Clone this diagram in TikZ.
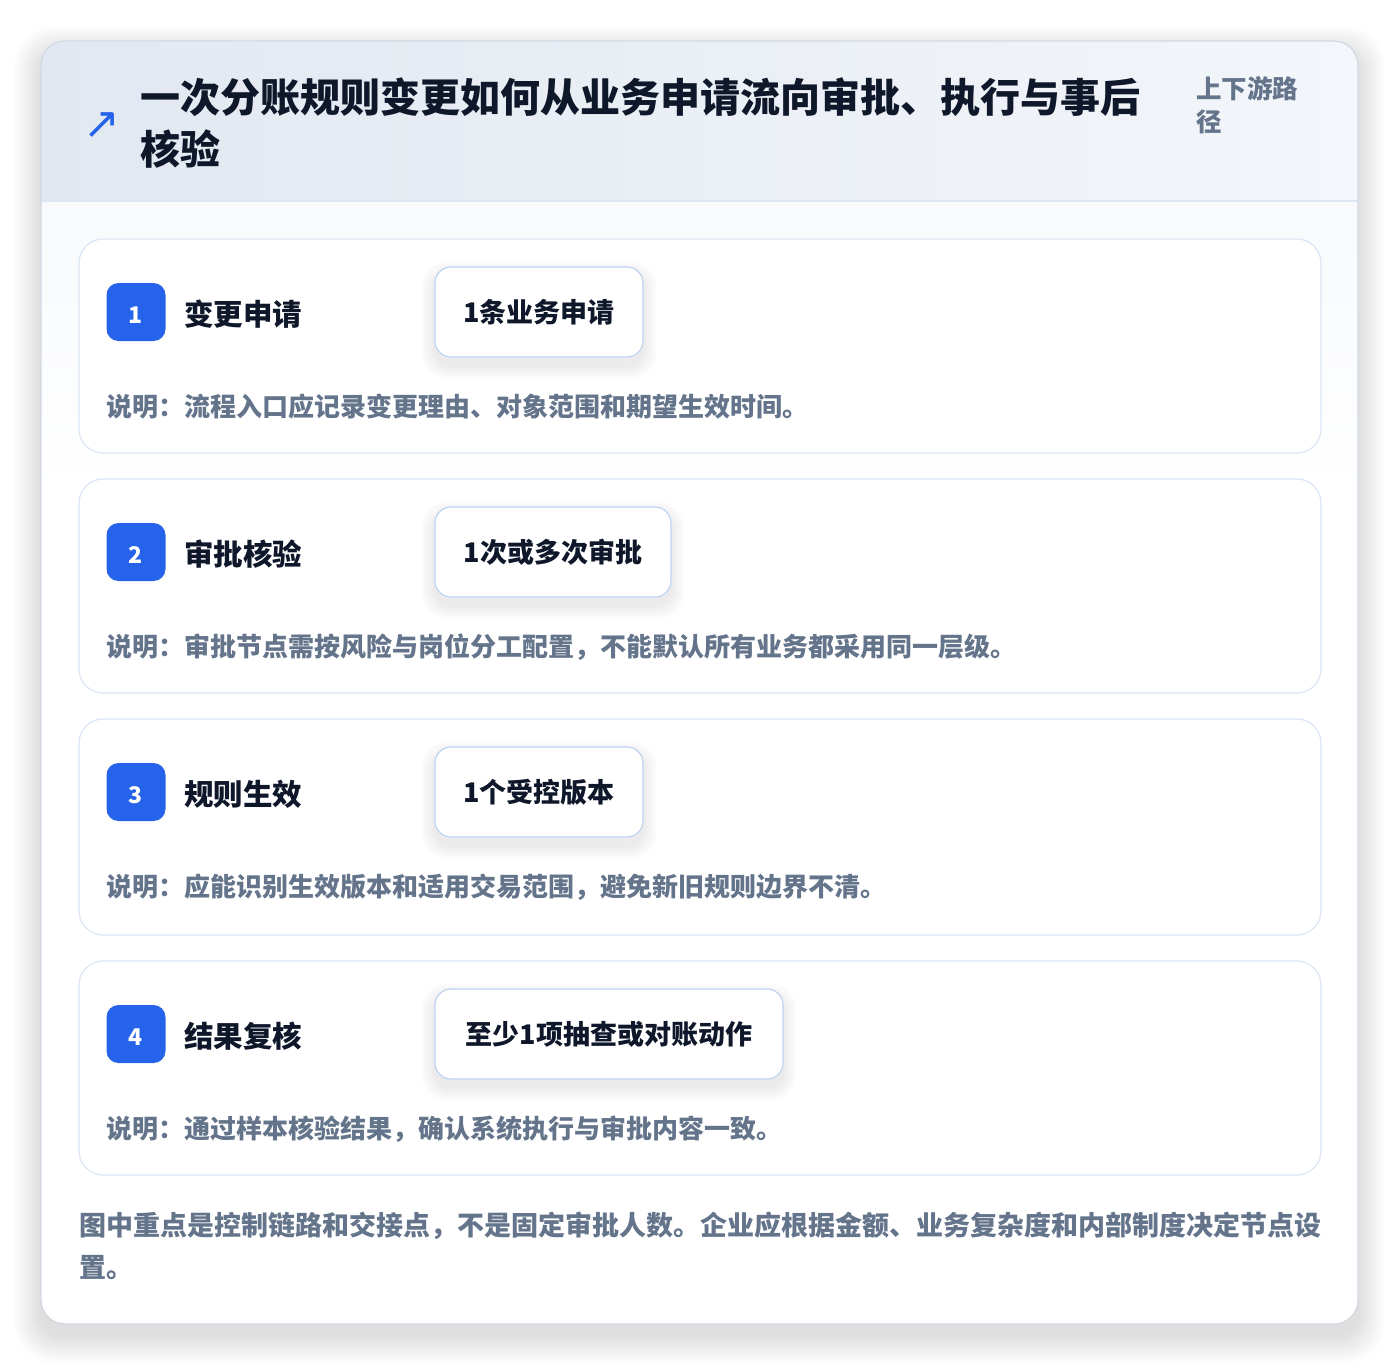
\documentclass[tikz,border=0pt]{standalone}
\usepackage{fontspec}
\setmainfont{Noto Sans CJK SC}
\newfontfamily\symfont{DejaVu Sans}
\usetikzlibrary{arrows.meta}
\definecolor{ink}{HTML}{0F172A}
\definecolor{muted}{HTML}{64748B}
\definecolor{accent}{HTML}{2563EB}
\definecolor{cardline}{HTML}{DCE6F5}
\definecolor{chipline}{HTML}{BFD3F0}
\definecolor{outline}{HTML}{D3D9E3}
\definecolor{headL}{HTML}{E2E8F1}
\definecolor{headR}{HTML}{F3F6FA}
\definecolor{sepline}{HTML}{DCE5F2}
\definecolor{shadowc}{HTML}{334155}
\tikzset{
  card/.style={draw=cardline, line width=1.2pt, fill=white, rounded corners=24pt},
  badge/.style={fill=accent, rounded corners=12pt, minimum width=59pt, minimum height=58pt, inner sep=0pt, text=white, text height=22pt, text depth=0pt, font=\fontsize{23}{24}\selectfont\bfseries},
  steptitle/.style={anchor=west, inner sep=0pt, text=ink, font=\fontsize{29.5}{32}\selectfont\bfseries},
  chip/.style={draw=chipline, line width=1.2pt, fill=white, rounded corners=16pt, minimum height=90pt, inner sep=0pt, text=ink, font=\fontsize{27}{30}\selectfont\bfseries},
  desc/.style={anchor=west, inner sep=0pt, text=muted, font=\fontsize{26}{30}\selectfont\bfseries},
  softshade/.style={fill=shadowc, opacity=#1},
}
\newcommand{\chipshadow}[4]{%
  \foreach \k in {1,...,10}{%
    \fill[softshade=0.006, rounded corners=16pt+\k pt] (#1-\k*1.4, #2-\k*1.4+8) rectangle (#3+\k*1.4, #4+\k*1.4+8);
  }}
\begin{document}
\begin{tikzpicture}[x=1pt,y=-1pt]
\useasboundingbox (0,0) rectangle (1400,1366);
\fill[white] (0,0) rectangle (1400,1366);
% outer card soft shadow
\foreach \k in {1,...,16}{
  \fill[softshade=0.0065, rounded corners=24pt+\k pt] (41-\k*1.7, 41-\k*1.7+12) rectangle (1358+\k*1.7, 1324+\k*1.7+12);
}
\fill[white, rounded corners=24pt] (41,41) rectangle (1358,1324);
\begin{scope}
  \clip[rounded corners=24pt] (41,41) rectangle (1358,1324);
  \shade[left color=headL, right color=headR] (41,41) rectangle (1358,201);
  \shade[top color=headR!60!white, bottom color=white] (41,201) rectangle (1358,500);
\end{scope}
\draw[sepline, line width=1.2pt] (41,201) -- (1358,201);
\draw[outline, line width=1.3pt, rounded corners=24pt] (41,41) rectangle (1358,1324);
% header
\node[inner sep=0pt, text=accent, font=\symfont\fontsize{44}{44}\selectfont] (icon) at (102,126) {↗};
\node[anchor=north west, inner sep=0pt, text=ink, align=left, font=\fontsize{40}{52}\selectfont\bfseries] (title) at (140,77) {一次分账规则变更如何从业务申请流向审批、执行与事后\\核验};
\node[anchor=north west, inner sep=0pt, text=muted, align=left, font=\fontsize{25.5}{33}\selectfont\bfseries] (tag) at (1196,76) {上下游路\\径};
% cards
\node[card, minimum width=1242pt, minimum height=214pt, inner sep=0pt] (c1) at (700,346) {};
\node[card, minimum width=1242pt, minimum height=214pt, inner sep=0pt] (c2) at (700,586) {};
\node[card, minimum width=1242pt, minimum height=216pt, inner sep=0pt] (c3) at (700,827) {};
\node[card, minimum width=1242pt, minimum height=214pt, inner sep=0pt] (c4) at (700,1068) {};
% chip shadows
\chipshadow{435}{267}{643}{357}
\chipshadow{435}{507}{671}{597}
\chipshadow{435}{747}{643}{837}
\chipshadow{435}{989}{783}{1079}
% step 1
\node[badge] (b1) at (136,312) {1};
\node[steptitle] (t1) at (184,314) {变更申请};
\node[chip, minimum width=208pt] (p1) at (539,312) {1条业务申请};
\node[desc] (d1) at (106,407) {说明：流程入口应记录变更理由、对象范围和期望生效时间。};
% step 2
\node[badge] (b2) at (136,552) {2};
\node[steptitle] (t2) at (184,554) {审批核验};
\node[chip, minimum width=236pt] (p2) at (553,552) {1次或多次审批};
\node[desc] (d2) at (106,647) {说明：审批节点需按风险与岗位分工配置，不能默认所有业务都采用同一层级。};
% step 3
\node[badge] (b3) at (136,792) {3};
\node[steptitle] (t3) at (184,794) {规则生效};
\node[chip, minimum width=208pt] (p3) at (539,792) {1个受控版本};
\node[desc] (d3) at (106,887) {说明：应能识别生效版本和适用交易范围，避免新旧规则边界不清。};
% step 4
\node[badge] (b4) at (136,1034) {4};
\node[steptitle] (t4) at (184,1036) {结果复核};
\node[chip, minimum width=348pt] (p4) at (609,1034) {至少1项抽查或对账动作};
\node[desc] (d4) at (106,1129) {说明：通过样本核验结果，确认系统执行与审批内容一致。};
% footer
\node[anchor=north west, inner sep=0pt, text=muted, align=left, font=\fontsize{27}{42}\selectfont\bfseries] (foot) at (79,1212) {图中重点是控制链路和交接点，不是固定审批人数。企业应根据金额、业务复杂度和内部制度决定节点设\\置。};
\end{tikzpicture}
\end{document}
